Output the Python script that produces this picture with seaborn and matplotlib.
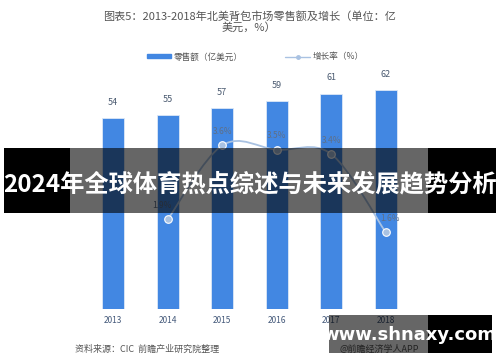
import matplotlib
matplotlib.use("Agg")
import matplotlib.pyplot as plt
import seaborn as sns
import numpy as np
import pandas as pd
from matplotlib.path import Path
from matplotlib.patches import PathPatch, Rectangle
from matplotlib.lines import Line2D

years = ["2013", "2014", "2015", "2016", "2017", "2018"]
sales = [54, 55, 57, 59, 61, 62]
growth_years = ["2014", "2015", "2016", "2017", "2018"]
growth = [1.9, 3.6, 3.5, 3.4, 1.6]
growth_labels = ["1.9%", "3.6%", "3.5%", "3.4%", "1.6%"]

title_text = "图表5：2013-2018年北美背包市场零售额及增长（单位：亿\n美元，%）"
legend_bar = "零售额（亿美元）"
legend_line = "增长率（%）"
source_text = "资料来源：CIC  前瞻产业研究院整理"
app_text = "@前瞻经济学人APP"
banner_text = "2024年全球体育热点综述与未来发展趋势分析"
site_text = "www.shnaxy.com"

sns.set_theme(style="white")
plt.rcParams['font.family'] = ['Noto Sans CJK SC', 'DejaVu Sans']

BAR = "#4287e2"
LINE = "#a9c2e2"
LBL = "#4a5a70"

fig = plt.figure(figsize=(5, 3.62), dpi=100)
ax = fig.add_axes([86/500, 1-309/362, 327/500, 247/362])

df = pd.DataFrame({"year": years, "sales": sales})
sns.barplot(data=df, x="year", y="sales", color=BAR, width=0.4, ax=ax,
            saturation=1, edgecolor="#dce8f7", linewidth=0.6)
ax.set_xlim(-0.5, 5.5)
ax.set_ylim(0, 70)
ax.set_xlabel("")
ax.set_ylabel("")
ax.set_yticks([])
for s in ax.spines.values():
    s.set_visible(False)
ax.tick_params(axis="x", length=0, labelsize=6, labelcolor="#44597a", pad=5)
for i, v in enumerate(sales):
    ax.text(i, v + 3.2, str(v), ha="center", va="bottom", fontsize=6.5, color=LBL)

ax2 = ax.twinx()
ymin2 = -7/43.5
ax2.set_ylim(ymin2, ymin2 + 247/43.5)
ax2.set_yticks([])
for s in ax2.spines.values():
    s.set_visible(False)

xs = np.array([years.index(y) for y in growth_years], dtype=float)
ys = np.array(growth, dtype=float)
# Smooth curve drawn as Bezier path through the data points
verts = [(xs[0], ys[0])]
codes = [Path.MOVETO]
n = len(xs)
for i in range(n - 1):
    p0 = np.array([xs[max(i-1, 0)], ys[max(i-1, 0)]])
    p1 = np.array([xs[i], ys[i]])
    p2 = np.array([xs[i+1], ys[i+1]])
    p3 = np.array([xs[min(i+2, n-1)], ys[min(i+2, n-1)]])
    c1 = p1 + (p2 - p0) / 6
    c2 = p2 - (p3 - p1) / 6
    verts += [tuple(c1), tuple(c2), tuple(p2)]
    codes += [Path.CURVE4] * 3
ax2.add_patch(PathPatch(Path(verts, codes), facecolor="none", edgecolor=LINE, lw=1.3, zorder=3))
gdf = pd.DataFrame({"x": xs, "g": ys})
sns.scatterplot(data=gdf, x="x", y="g", ax=ax2, s=30, color=LINE, edgecolor="white",
                linewidth=0.8, zorder=4, legend=False)
ax2.set_xlabel("")
ax2.set_ylabel("")
offs = [(-0.1, 0.22), (0, 0.22), (0, 0.22), (0, 0.22), (0.08, 0.22)]
for (x, y, t), (dx, dy) in zip(zip(xs, ys, growth_labels), offs):
    ax2.text(x + dx, y + dy, t, ha="center", va="bottom", fontsize=6, color="#5f6f86")

fig.text(0.498, 1-22/362, title_text, ha="center", va="center", fontsize=8,
         color="#555555", linespacing=1.0)

# legend
leg_handles = [Rectangle((0, 0), 1, 1, color=BAR),
               Line2D([0], [0], color=LINE, lw=1, marker="o", markersize=2.5,
                      markerfacecolor=LINE, markeredgecolor=LINE)]
fig.legend(leg_handles, [legend_bar, legend_line], loc="center",
           bbox_to_anchor=(0.51, 1-57/362), ncol=2, frameon=False, fontsize=6.2,
           handlelength=2.8, handleheight=0.35, columnspacing=5, labelcolor="#555555",
           handletextpad=0.3)

fig.text(75/500, 1-349/362, source_text, ha="left", va="center", fontsize=6.5,
         color="#555555", style="italic")
fig.text(340/500, 1-349/362, app_text, ha="left", va="center", fontsize=6.5,
         color="#555555")

# overlay layer on top of everything
ov = fig.add_axes([0, 0, 1, 1], zorder=20)
ov.set_xlim(0, 500)
ov.set_ylim(362, 0)
ov.axis("off")
ov.add_patch(Rectangle((4, 148), 66, 65, facecolor="black", edgecolor="none"))
ov.add_patch(Rectangle((428, 148), 68, 65, facecolor="black", edgecolor="none"))
ov.add_patch(Rectangle((70, 148), 358, 65, facecolor="black", alpha=0.6, edgecolor="none"))
ov.text(250, 184, banner_text, ha="center", va="center", fontsize=17.5,
        color="white", weight="bold")
ov.add_patch(Rectangle((329, 315), 99, 38, facecolor="black", alpha=0.6, edgecolor="none"))
ov.add_patch(Rectangle((428, 315), 64, 38, facecolor="black", edgecolor="none"))
ov.text(409, 335, site_text, ha="center", va="center", fontsize=13,
        color="white", weight="bold", family=["DejaVu Sans"])

fig.savefig("out.png", dpi=100)
